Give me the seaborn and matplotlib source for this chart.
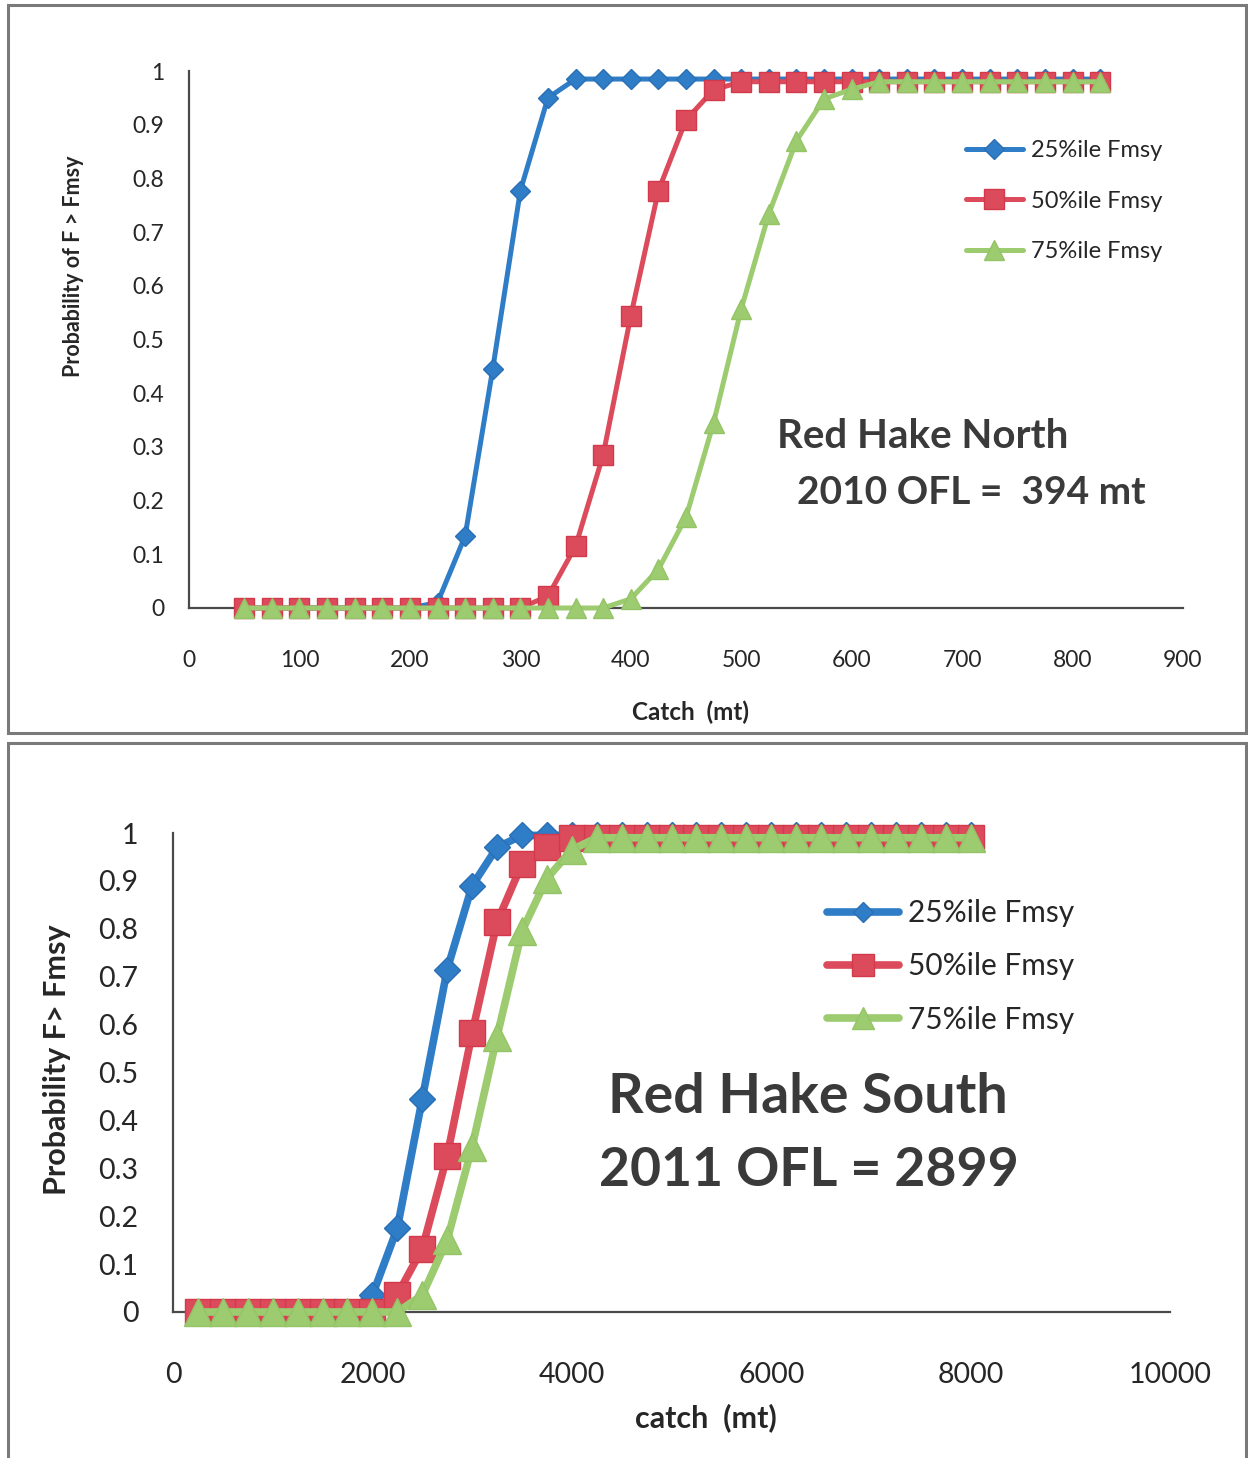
import matplotlib
matplotlib.use("Agg")
import matplotlib.pyplot as plt
from matplotlib.patches import Rectangle
import seaborn as sns
import pandas as pd

# ---- Red Hake North: probability of exceeding Fmsy vs catch (mt)
north_catch = [50, 75, 100, 125, 150, 175, 200, 225, 250, 275, 300, 325, 350, 375, 400, 425,
               450, 475, 500, 525, 550, 575, 600, 625, 650, 675, 700, 725, 750, 775, 800, 825]
north_p25 = [0, 0, 0, 0, 0, 0, 0, 0.01, 0.134, 0.445, 0.777, 0.95, 0.985, 0.985, 0.985, 0.985,
             0.985, 0.985, 0.985, 0.985, 0.985, 0.985, 0.985, 0.985, 0.985, 0.985, 0.985, 0.985,
             0.985, 0.985, 0.985, 0.985]
north_p50 = [0, 0, 0, 0, 0, 0, 0, 0, 0, 0, 0, 0.022, 0.115, 0.285, 0.544, 0.777,
             0.909, 0.965, 0.98, 0.98, 0.98, 0.98, 0.98, 0.98, 0.98, 0.98, 0.98, 0.98, 0.98, 0.98, 0.98, 0.98]
north_p75 = [0, 0, 0, 0, 0, 0, 0, 0, 0, 0, 0, 0, 0, 0, 0.017, 0.072,
             0.169, 0.345, 0.557, 0.734, 0.87, 0.948, 0.966, 0.98, 0.98, 0.98, 0.98, 0.98, 0.98, 0.98, 0.98, 0.98]

# ---- Red Hake South
south_catch = [250, 500, 750, 1000, 1250, 1500, 1750, 2000, 2250, 2500, 2750, 3000, 3250, 3500, 3750, 4000,
               4250, 4500, 4750, 5000, 5250, 5500, 5750, 6000, 6250, 6500, 6750, 7000, 7250, 7500, 7750, 8000]
south_p25 = [0, 0, 0, 0, 0, 0, 0, 0.035, 0.175, 0.445, 0.715, 0.89, 0.97, 0.995, 0.995, 0.995,
             0.995, 0.995, 0.995, 0.995, 0.995, 0.995, 0.995, 0.995, 0.995, 0.995, 0.995, 0.995,
             0.995, 0.995, 0.995, 0.995]
south_p50 = [0, 0, 0, 0, 0, 0, 0, 0, 0.036, 0.132, 0.326, 0.582, 0.814, 0.935, 0.971, 0.99,
             0.99, 0.99, 0.99, 0.99, 0.99, 0.99, 0.99, 0.99, 0.99, 0.99, 0.99, 0.99, 0.99, 0.99, 0.99, 0.99]
south_p75 = [0, 0, 0, 0, 0, 0, 0, 0, 0, 0.035, 0.15, 0.345, 0.575, 0.795, 0.905, 0.965,
             0.99, 0.99, 0.99, 0.99, 0.99, 0.99, 0.99, 0.99, 0.99, 0.99, 0.99, 0.99, 0.99, 0.99, 0.99, 0.99]

series_labels = ["25%ile Fmsy", "50%ile Fmsy", "75%ile Fmsy"]
y_ticks = [0, 0.1, 0.2, 0.3, 0.4, 0.5, 0.6, 0.7, 0.8, 0.9, 1]
y_tick_labels = ["0", "0.1", "0.2", "0.3", "0.4", "0.5", "0.6", "0.7", "0.8", "0.9", "1"]
north_x_ticks = [0, 100, 200, 300, 400, 500, 600, 700, 800, 900]
south_x_ticks = [0, 2000, 4000, 6000, 8000, 10000]

sns.set_style("white")
plt.rcParams["font.family"] = ["Lato", "DejaVu Sans"]

W, H = 1248, 1458
fig = plt.figure(figsize=(W / 100, H / 100), dpi=100)
fig.patch.set_facecolor("white")


def fx(px):
    return px / W


def fy(py):
    return 1 - py / H


colors = ["#2f7dc6", "#dc4b5b", "#9ccb70"]
edge_colors = ["#2a6fb5", "#d23a4c", "#94c466"]
markers = ["D", "s", "^"]

TEXT = "#262626"
SPINE = "#4a4a4a"

# chart frames
for (x0, y0, x1, y1) in [(8, 5, 1246, 733), (8, 743, 1246, 1475)]:
    fig.patches.append(Rectangle((fx(x0), fy(y1)), fx(x1) - fx(x0), fy(y0) - fy(y1),
                                 transform=fig.transFigure, fill=False,
                                 edgecolor="#7a7a7a", linewidth=2.2, zorder=0))


def draw_panel(ax, catch, series, msizes, lw, xticks, xmax, tick_fs, tick_len,
               xpad, ypad):
    frames = []
    for lab, vals in zip(series_labels, series):
        frames.append(pd.DataFrame({"catch": catch, "prob": vals, "series": lab}))
    df = pd.concat(frames, ignore_index=True)
    for i, lab in enumerate(series_labels):
        sub = df[df["series"] == lab]
        sns.lineplot(data=sub, x="catch", y="prob", ax=ax, color=colors[i],
                     marker=markers[i], markersize=msizes[i], linewidth=lw,
                     markeredgecolor=edge_colors[i], markeredgewidth=1.0,
                     clip_on=False, label=lab, zorder=3 + i)
    ax.set_xlim(0, xmax)
    ax.set_ylim(0, 1)
    ax.set_xticks(xticks)
    ax.set_xticklabels([str(t) for t in xticks])
    ax.set_yticks(y_ticks)
    ax.set_yticklabels(y_tick_labels)
    for s in ["top", "right"]:
        ax.spines[s].set_visible(False)
    for s in ["left", "bottom"]:
        ax.spines[s].set_color(SPINE)
        ax.spines[s].set_linewidth(1.6)
    ax.tick_params(axis="x", direction="out", length=tick_len, width=1.6, color=SPINE,
                   labelsize=tick_fs, labelcolor=TEXT, pad=xpad)
    ax.tick_params(axis="y", direction="out", length=tick_len, width=1.6, color=SPINE,
                   labelsize=tick_fs, labelcolor=TEXT, pad=ypad)
    ax.set_xlabel("")
    ax.set_ylabel("")
    ax.grid(False)


# ---- top panel
ax1 = fig.add_axes([fx(189), fy(608), fx(1183) - fx(189), fy(71) - fy(608)])
draw_panel(ax1, north_catch, [north_p25, north_p50, north_p75], [10.5, 15, 15], 3.6,
           north_x_ticks, 900, 16.5, 7, 23, 11)
ax1.legend(loc="upper left", bbox_to_anchor=(fx(966), fy(140)), bbox_transform=fig.transFigure,
           frameon=False, fontsize=17, handlelength=2.4, handletextpad=0.35,
           labelspacing=1.25, borderpad=0, borderaxespad=0, markerscale=0.95,
           labelcolor=TEXT)
fig.text(fx(73), fy(266), "Probability of F > Fmsy", rotation=90, ha="center", va="center",
         fontsize=15.5, fontweight="bold", color=TEXT)
fig.text(fx(690), fy(712), "Catch  (mt)", ha="center", va="center",
         fontsize=17.5, fontweight="bold", color=TEXT)
fig.text(fx(923), fy(437), "Red Hake North", ha="center", va="center",
         fontsize=29, fontweight="bold", color="#3a3a3a")
fig.text(fx(971), fy(492), "2010 OFL =  394 mt", ha="center", va="center",
         fontsize=28, fontweight="bold", color="#3a3a3a")

# ---- bottom panel
ax2 = fig.add_axes([fx(173), fy(1312), fx(1170) - fx(173), fy(833) - fy(1312)])
draw_panel(ax2, south_catch, [south_p25, south_p50, south_p75], [13, 19, 20], 5.5,
           south_x_ticks, 10000, 20.5, 10, 26, 15)
ax2.legend(loc="upper left", bbox_to_anchor=(fx(827), fy(899)), bbox_transform=fig.transFigure,
           frameon=False, fontsize=21.5, handlelength=2.4, handletextpad=0.3,
           labelspacing=0.85, borderpad=0, borderaxespad=0, markerscale=0.8,
           labelcolor=TEXT)
fig.text(fx(57), fy(1060), "Probability F> Fmsy", rotation=90, ha="center", va="center",
         fontsize=22, fontweight="bold", color=TEXT)
fig.text(fx(706), fy(1418), "catch  (mt)", ha="center", va="center",
         fontsize=22, fontweight="bold", color=TEXT)
fig.text(fx(808), fy(1097), "Red Hake South", ha="center", va="center",
         fontsize=40, fontweight="bold", color="#3a3a3a")
fig.text(fx(809), fy(1170), "2011 OFL = 2899", ha="center", va="center",
         fontsize=38.5, fontweight="bold", color="#3a3a3a")

fig.savefig("out.png", dpi=100, facecolor="white")
